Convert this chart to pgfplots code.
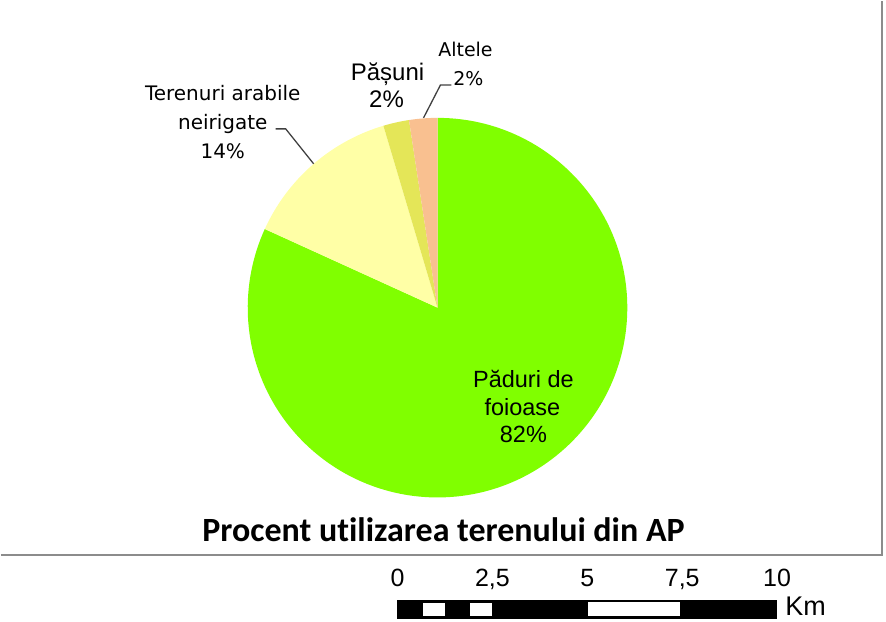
\documentclass[border=0pt]{standalone}
\usepackage{pgfplots}
\pgfplotsset{compat=1.18}
\usepackage{pgfplotstable}
\usepackage{fontspec}
\setmainfont{Liberation Sans}
\newfontfamily\dv{DejaVu Sans}
\newfontfamily\lib{Liberation Sans}
\newfontfamily\carl[Ligatures=NoCommon]{Carlito}
\definecolor{cGreen}{RGB}{128,255,0}
\definecolor{cYellow}{RGB}{255,255,166}
\definecolor{cOlive}{RGB}{228,230,88}
\definecolor{cPeach}{RGB}{249,192,144}
\definecolor{cFrame}{RGB}{140,140,140}
\definecolor{cLead}{RGB}{64,64,64}

\pgfplotstableread{
label value
Paduri 81.8
Terenuri 13.6
Pasuni 2.2
Altele 2.4
}\landuse

\pgfplotstablegetelem{0}{value}\of\landuse \let\vA\pgfplotsretval
\pgfplotstablegetelem{1}{value}\of\landuse \let\vB\pgfplotsretval
\pgfplotstablegetelem{2}{value}\of\landuse \let\vC\pgfplotsretval
\pgfplotstablegetelem{3}{value}\of\landuse \let\vD\pgfplotsretval
\pgfmathsetmacro\aO{90}
\pgfmathsetmacro\aA{\aO-3.6*\vA}
\pgfmathsetmacro\aB{\aA-3.6*\vB}
\pgfmathsetmacro\aC{\aB-3.6*\vC}
\pgfmathsetmacro\aD{\aC-3.6*\vD}

\begin{document}
\begin{tikzpicture}
\begin{axis}[
  at={(0,0)}, anchor=south west,
  width=886pt, height=621pt, scale only axis,
  xmin=0, xmax=886, ymin=0, ymax=621, y dir=reverse,
  hide axis, clip=false]
% pie wedges
\fill[cGreen]  (axis cs:437,307) -- ++(\aO:190pt) arc[start angle=\aO, end angle=\aA, radius=190pt] -- cycle;
\fill[cYellow] (axis cs:437,307) -- ++(\aA:190pt) arc[start angle=\aA, end angle=\aB, radius=190pt] -- cycle;
\fill[cOlive]  (axis cs:437,307) -- ++(\aB:190pt) arc[start angle=\aB, end angle=\aC, radius=190pt] -- cycle;
\fill[cPeach]  (axis cs:437,307) -- ++(\aC:190pt) arc[start angle=\aC, end angle=\aD, radius=190pt] -- cycle;
% leader lines
\draw[cLead, line width=1.3pt] (axis cs:275,128) -- (axis cs:285,128) -- (axis cs:313,163);
\draw[cLead, line width=1.3pt] (axis cs:451,84) -- (axis cs:440,84) -- (axis cs:423,117);
% labels
\node[anchor=base, inner sep=0pt, font=\dv\fontsize{20}{24}\selectfont] at (axis cs:222,100) {Terenuri arabile};
\node[anchor=base, inner sep=0pt, font=\dv\fontsize{20}{24}\selectfont] at (axis cs:222,129) {neirigate};
\node[anchor=base, inner sep=0pt, font=\dv\fontsize{20}{24}\selectfont] at (axis cs:222,158) {14\%};
\node[anchor=base, inner sep=0pt, font=\lib\fontsize{24}{28}\selectfont] at (axis cs:387,80) {Pășuni};
\node[anchor=base, inner sep=0pt, font=\lib\fontsize{24}{28}\selectfont] at (axis cs:386,107) {2\%};
\node[anchor=base, inner sep=0pt, font=\dv\fontsize{19}{23}\selectfont] at (axis cs:465,56) {Altele};
\node[anchor=base, inner sep=0pt, font=\dv\fontsize{19}{23}\selectfont] at (axis cs:468,85) {2\%};
\node[anchor=base, inner sep=0pt, font=\lib\fontsize{23.5}{28}\selectfont] at (axis cs:523,387) {Păduri de};
\node[anchor=base, inner sep=0pt, font=\lib\fontsize{23.5}{28}\selectfont] at (axis cs:522,414.5) {foioase};
\node[anchor=base, inner sep=0pt, font=\lib\fontsize{23.5}{28}\selectfont] at (axis cs:523,442) {82\%};
% title
\node[anchor=base, inner sep=0pt, font=\carl\bfseries\fontsize{34}{40}\selectfont] at (axis cs:443,541) {Procent utilizarea terenului din AP};
% frame
\draw[cFrame, line width=2pt] (axis cs:0,555) -- (axis cs:882,555) -- (axis cs:882,0);
% scale bar
\fill[black] (axis cs:396,600) rectangle (axis cs:777,619);
\fill[white] (axis cs:422,603) rectangle (axis cs:444,616);
\fill[white] (axis cs:470,603) rectangle (axis cs:492,616);
\fill[white] (axis cs:588,602) rectangle (axis cs:680,616);
\node[anchor=base, inner sep=0pt, font=\lib\fontsize{25}{30}\selectfont] at (axis cs:397,586) {0};
\node[anchor=base, inner sep=0pt, font=\lib\fontsize{25}{30}\selectfont] at (axis cs:492,586) {2,5};
\node[anchor=base, inner sep=0pt, font=\lib\fontsize{25}{30}\selectfont] at (axis cs:587,586) {5};
\node[anchor=base, inner sep=0pt, font=\lib\fontsize{25}{30}\selectfont] at (axis cs:682,586) {7,5};
\node[anchor=base, inner sep=0pt, font=\lib\fontsize{25}{30}\selectfont] at (axis cs:777,586) {10};
\node[anchor=base west, inner sep=0pt, font=\lib\fontsize{27}{31}\selectfont] at (axis cs:785,615.5) {Km};
\end{axis}
\useasboundingbox (0,0) rectangle (886pt,621pt);
\end{tikzpicture}
\end{document}
